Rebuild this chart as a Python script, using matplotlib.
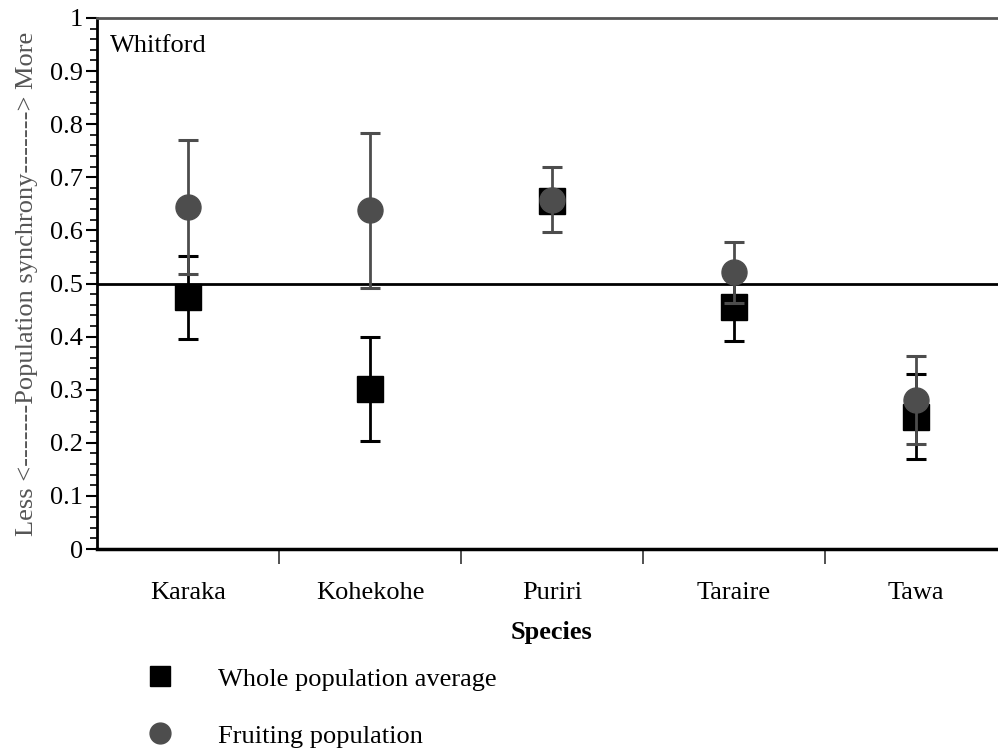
import matplotlib
matplotlib.use("Agg")
import matplotlib.pyplot as plt
from matplotlib.lines import Line2D
from matplotlib.ticker import MultipleLocator, FixedLocator
import numpy as np

plt.rcParams['font.family'] = ['Liberation Serif', 'DejaVu Serif']

# data
species = ["Karaka", "Kohekohe", "Puriri", "Taraire", "Tawa"]
whole_avg = [0.474, 0.301, 0.656, 0.456, 0.249]
whole_lo = [0.079, 0.097, 0.008, 0.064, 0.080]
whole_hi = [0.078, 0.098, 0.008, 0.058, 0.081]
fruit_avg = [0.644, 0.638, 0.658, 0.521, 0.281]
fruit_err = [0.127, 0.146, 0.061, 0.058, 0.083]

gray = '#4d4d4d'
x = np.arange(len(species))
fs = 19

fig = plt.figure(figsize=(9.98, 7.51), dpi=100)
ax = fig.add_axes([97/998, 1 - 549/751, 910/998, 531/751])

# whole population first, fruiting drawn on top
ax.errorbar(x, whole_avg, yerr=[whole_lo, whole_hi], fmt='none', ecolor='black',
            elinewidth=2, capsize=7.5, capthick=2.2, zorder=3)
ax.plot(x, whole_avg, 's', color='black', markersize=19, zorder=3.5)
ax.errorbar(x, fruit_avg, yerr=fruit_err, fmt='none', ecolor=gray,
            elinewidth=2, capsize=7.5, capthick=2.2, zorder=4)
ax.plot(x, fruit_avg, 'o', color=gray, markersize=18, zorder=4.5)

ax.axhline(0.5, color='black', linewidth=2, zorder=2)

ax.set_xlim(-0.5, 4.5)
ax.set_ylim(0, 1)

ax.set_yticks(np.arange(0, 1.01, 0.1))
ax.set_yticklabels(['0', '0.1', '0.2', '0.3', '0.4', '0.5', '0.6', '0.7', '0.8', '0.9', '1'])
ax.yaxis.set_minor_locator(MultipleLocator(0.02))
ax.tick_params(axis='y', which='major', direction='out', length=8, width=1.5,
               labelsize=fs, pad=2)
ax.tick_params(axis='y', which='minor', direction='out', length=5, width=1.2)

ax.set_xticks(x)
ax.set_xticklabels(species)
ax.xaxis.set_minor_locator(FixedLocator(x[:-1] + 0.5))
ax.tick_params(axis='x', which='major', length=0, labelsize=fs, pad=24)
ax.tick_params(axis='x', which='minor', direction='out', length=11, width=1.2, color='#333333')

ax.spines['right'].set_visible(False)
ax.spines['left'].set_linewidth(2)
ax.spines['bottom'].set_linewidth(2.5)
ax.spines['top'].set_linewidth(2)
ax.spines['top'].set_color('#555555')

ax.set_xlabel("Species", fontsize=fs, fontweight='bold', labelpad=12)
ax.set_ylabel("Less <-------Population synchrony-------> More", fontsize=fs,
              color='#555555', labelpad=9)

ax.text(0.014, 0.968, "Whitford", transform=ax.transAxes, fontsize=fs,
        va='top', ha='left')

handles = [Line2D([], [], marker='s', linestyle='none', color='black', markersize=15),
           Line2D([], [], marker='o', linestyle='none', color=gray, markersize=15)]
fig.legend(handles, ["Whole population average", "Fruiting population"],
           loc='upper left', bbox_to_anchor=(131/998, 1 - 654/751), frameon=False,
           fontsize=fs, handletextpad=1.6, handlelength=1.2, labelspacing=1.27, borderpad=0)

fig.savefig("out.png", dpi=100)
